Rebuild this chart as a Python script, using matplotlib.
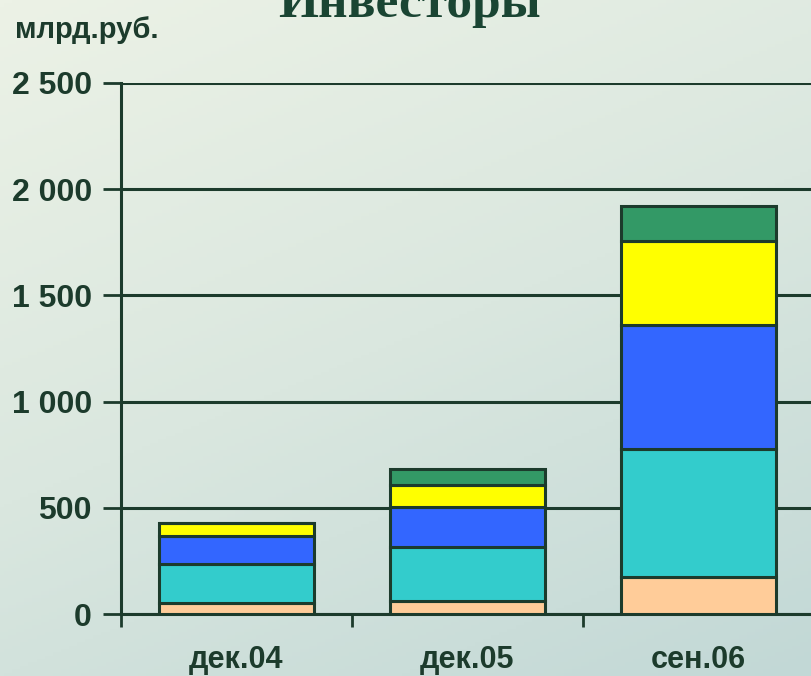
import numpy as np
import matplotlib
matplotlib.use("Agg")
import matplotlib.pyplot as plt
from matplotlib.colors import LinearSegmentedColormap

categories = ["дек.04", "дек.05", "сен.06"]
s_orange = [50, 62, 172]
s_cyan = [185, 253, 603]
s_blue = [133, 190, 585]
s_yellow = [60, 104, 397]
s_green = [0, 72, 165]
yticks = [0, 500, 1000, 1500, 2000, 2500]
ytick_labels = ["0", "500", "1 000", "1 500", "2 000", "2 500"]

series = [s_orange, s_cyan, s_blue, s_yellow, s_green]
colors = ["#FFCC99", "#33CCCC", "#3366FF", "#FFFF00", "#339966"]
dark = "#1C3B2C"

fig = plt.figure(figsize=(8.12, 6.76), dpi=100)

# background gradient
bg = fig.add_axes([0, 0, 1, 1], zorder=-10)
yy, xx = np.mgrid[0:1:200j, 0:1:200j]
t = 0.6 * yy + 0.3 * xx
cmap = LinearSegmentedColormap.from_list("bg", ["#ECF2E6", "#DAE7DF", "#C2D8D6"])
bg.imshow(t, cmap=cmap, aspect="auto", extent=[0, 1, 0, 1], origin="upper")
bg.axis("off")

ax = fig.add_axes([121/812, 62/676, 693/812, (614-83)/676])
ax.patch.set_alpha(0)

x = np.arange(len(categories))
bottom = np.zeros(len(categories))
for vals, c in zip(series, colors):
    v = np.array(vals, dtype=float)
    ax.bar(x, v, bottom=bottom, width=0.675, color=c, edgecolor=dark,
           linewidth=2.2, zorder=3)
    bottom += v

ax.set_xlim(-0.5, 2.5)
ax.set_ylim(0, 2500)
ax.set_yticks(yticks)
ax.set_yticklabels(ytick_labels)
ax.yaxis.grid(True, color=dark, linewidth=2.2, zorder=0)
ax.set_axisbelow(True)

ax.set_xticks(x)
ax.set_xticklabels(categories)
ax.set_xticks([-0.5, 0.5, 1.5, 2.5], minor=True)
ax.tick_params(axis="x", which="major", length=0, pad=22)
ax.tick_params(axis="x", which="minor", length=9, width=2, color=dark, direction="out")
ax.tick_params(axis="y", length=13, width=2, color=dark, pad=8)

for lbl in ax.get_yticklabels():
    lbl.set_fontfamily(["Liberation Sans", "DejaVu Sans"])
    lbl.set_fontsize(23)
    lbl.set_fontweight("bold")
    lbl.set_color(dark)
for lbl in ax.get_xticklabels():
    lbl.set_fontfamily(["Liberation Sans Narrow", "Liberation Sans", "DejaVu Sans"])
    lbl.set_fontsize(22)
    lbl.set_fontweight("bold")
    lbl.set_color(dark)

for side in ["top", "right"]:
    ax.spines[side].set_visible(False)
ax.spines["left"].set_color(dark)
ax.spines["left"].set_linewidth(2.2)
ax.spines["bottom"].set_color(dark)
ax.spines["bottom"].set_linewidth(2.2)

fig.text(15/812, 1 - 38/676, "млрд.руб.", fontsize=21, fontweight="bold",
         color=dark, family=["Liberation Sans", "DejaVu Sans"], va="baseline", ha="left")
fig.text(410/812, 1 - 17/676, "Инвесторы", fontsize=37, fontweight="bold",
         color="#1A4533", family=["Liberation Serif", "DejaVu Serif"],
         va="baseline", ha="center")

fig.savefig("out.png", dpi=100)
